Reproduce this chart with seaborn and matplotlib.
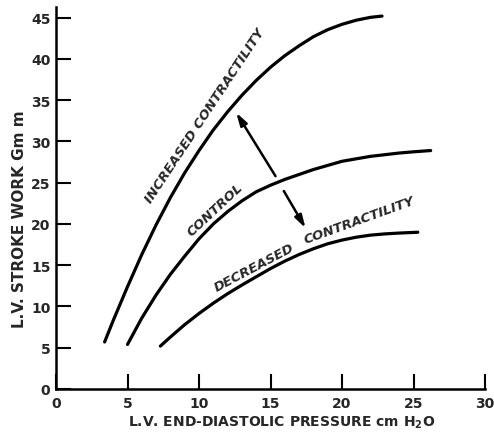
import matplotlib
matplotlib.use("Agg")
import matplotlib.pyplot as plt
import seaborn as sns
import pandas as pd

# ---- data ----
inc_x = [3.4, 4, 5, 6, 7, 8, 9, 10, 11, 12, 13, 14, 15, 16, 17, 18, 19, 20, 21, 22, 22.8]
inc_y = [5.7, 8.3, 12.4, 16.3, 19.9, 23.2, 26.2, 28.9, 31.4, 33.6, 35.6, 37.4, 39.0,
         40.4, 41.6, 42.7, 43.55, 44.2, 44.7, 45.05, 45.2]

ctl_x = [5, 6, 7, 8, 9, 10, 11, 12, 13, 14, 15, 16, 17, 18, 19, 20, 21, 22, 23, 24, 25, 26.2]
ctl_y = [5.4, 8.6, 11.4, 13.9, 16.1, 18.2, 20.0, 21.5, 22.8, 23.9, 24.7, 25.4, 26.0,
         26.6, 27.1, 27.6, 27.9, 28.2, 28.4, 28.6, 28.75, 28.9]

dec_x = [7.3, 8, 9, 10, 11, 12, 13, 14, 15, 16, 17, 18, 19, 20, 21, 22, 23, 24, 25.3]
dec_y = [5.2, 6.3, 7.8, 9.15, 10.4, 11.55, 12.6, 13.6, 14.6, 15.5, 16.3, 17.0, 17.6,
         18.05, 18.4, 18.65, 18.8, 18.9, 19.0]

x_ticks = [0, 5, 10, 15, 20, 25, 30]
y_ticks = [0, 5, 10, 15, 20, 25, 30, 35, 40, 45]

arrow_up = [(15.35, 25.8), (12.6, 33.5)]      # (start, end)
arrow_down = [(15.93, 24.0), (17.45, 19.5)]

labels = ["INCREASED CONTRACTILITY", "CONTROL", "DECREASED", "CONTRACTILITY"]
label_pos = [(10.45, 33.25), (11.1, 21.8), (13.85, 14.75), (21.2, 20.55)]
label_rot = [56.5, 43, 28, 20]

df = pd.concat([
    pd.DataFrame({"x": inc_x, "y": inc_y, "curve": "inc"}),
    pd.DataFrame({"x": ctl_x, "y": ctl_y, "curve": "ctl"}),
    pd.DataFrame({"x": dec_x, "y": dec_y, "curve": "dec"}),
])

sns.set_style("ticks")
plt.rcParams["font.family"] = ["DejaVu Sans"]

fig = plt.figure(figsize=(4.94, 4.35), dpi=100)
ax = fig.add_axes([56/494, 45/435, (485-56)/494, (390-8)/435])

sns.lineplot(data=df, x="x", y="y", hue="curve", units="curve", estimator=None,
             sort=False, palette={"inc": "black", "ctl": "black", "dec": "black"},
             linewidth=2.3, legend=False, ax=ax)
for ln in ax.lines:
    ln.set_solid_joinstyle("round")

for (s, e) in (arrow_up, arrow_down):
    ax.annotate("", xy=e, xytext=s,
                arrowprops=dict(arrowstyle="-|>,head_length=0.75,head_width=0.22",
                                color="black", lw=1.8, shrinkA=0, shrinkB=0))

for t, (lx, ly), r in zip(labels, label_pos, label_rot):
    ax.text(lx, ly, t, rotation=r, rotation_mode="anchor", ha="center", va="center",
            fontsize=9.5, fontweight="bold", fontstyle="italic")

ax.set_xlim(0, 30)
ax.set_ylim(0, 46.3)
ax.set_xticks(x_ticks)
ax.set_yticks(y_ticks)
ax.set_xticklabels([str(v) for v in x_ticks], fontsize=10, fontweight="bold")
ax.set_yticklabels([str(v) for v in y_ticks], fontsize=10, fontweight="bold")
ax.tick_params(direction="in", length=11, width=1.5, color="black", pad=4)
ax.tick_params(axis="x", pad=5)

ax.set_xlabel("L.V. END-DIASTOLIC PRESSURE cm H$_\\mathbf{2}$O", fontsize=10,
              fontweight="bold")
ax.xaxis.set_label_coords((281.5 - 56) / 429, -0.065)
ax.set_ylabel("L.V. STROKE WORK Gm m", fontsize=11, fontweight="bold")
ax.yaxis.set_label_coords(-0.068, 0.448)

sns.despine(ax=ax)
for side in ("left", "bottom"):
    ax.spines[side].set_linewidth(1.8)
    ax.spines[side].set_color("black")

fig.savefig("out.png", dpi=100)
